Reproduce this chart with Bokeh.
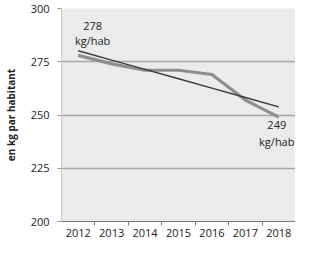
import numpy as np
from bokeh.plotting import figure
from bokeh.models import FixedTicker, Label
from bokeh.embed import file_html
from bokeh.resources import INLINE

years = ["2012", "2013", "2014", "2015", "2016", "2017", "2018"]
values = [278, 274, 271, 271, 269, 257, 249]
y_ticks = [200, 225, 250, 275, 300]

xs = list(range(len(years)))
slope, intercept = np.polyfit(xs, values, 1)
trend = [intercept + slope * x for x in xs]

FONT = "Open Sans"

p = figure(width=295, height=239, output_backend="svg", toolbar_location=None,
           x_range=(-0.5, len(years) - 0.5), y_range=(200, 300),
           min_border_left=54, min_border_right=0, min_border_top=8, min_border_bottom=4)
p.outline_line_color = None
p.background_fill_color = "#ebebeb"
p.border_fill_color = "white"

p.line(xs, values, line_color="#8e8e8e", line_width=3.2)
p.line(xs, trend, line_color="#3a3a3a", line_width=1.4)

p.xaxis.ticker = FixedTicker(ticks=xs, minor_ticks=[x + 0.5 for x in xs[:-1]])
p.xaxis.major_label_overrides = {i: y for i, y in enumerate(years)}
p.xaxis.major_tick_line_color = None
p.xaxis.major_tick_in = 0
p.xaxis.major_tick_out = 4
p.xaxis.minor_tick_in = 0
p.xaxis.minor_tick_out = 4
p.xaxis.minor_tick_line_color = "#777777"
p.xaxis.axis_line_color = "#777777"
p.xaxis.axis_line_width = 1.2
p.xaxis.major_label_standoff = 3
p.xaxis.major_label_text_font = FONT
p.xaxis.major_label_text_font_size = "11px"
p.xaxis.major_label_text_color = "#222222"

p.yaxis.ticker = FixedTicker(ticks=y_ticks)
p.yaxis.minor_tick_line_color = None
p.yaxis.major_tick_in = 0
p.yaxis.major_tick_out = 4
p.yaxis.major_tick_line_color = "#999999"
p.yaxis.axis_line_color = "#cccccc"
p.yaxis.major_label_standoff = 8
p.yaxis.major_label_text_font = FONT
p.yaxis.major_label_text_font_size = "11px"
p.yaxis.major_label_text_color = "#222222"
p.yaxis.axis_label = "en kg par habitant"
p.yaxis.axis_label_text_font = FONT
p.yaxis.axis_label_text_font_size = "10px"
p.yaxis.axis_label_text_font_style = "bold"
p.yaxis.axis_label_text_color = "#222222"
p.yaxis.axis_label_standoff = 10

p.xgrid.grid_line_color = None
p.ygrid.grid_line_color = "#a8a8a8"
p.ygrid.grid_line_width = 1.5

for x, y, t in [(0.43, 292, "278"), (0.43, 285, "kg/hab"), (5.94, 245.5, "249"), (5.94, 237.5, "kg/hab")]:
    p.add_layout(Label(x=x, y=y, text=t, text_align="center", text_baseline="middle",
                       text_font=FONT, text_font_size="11px", text_color="#222222"))

open("out.html", "w").write(file_html(p, INLINE))
